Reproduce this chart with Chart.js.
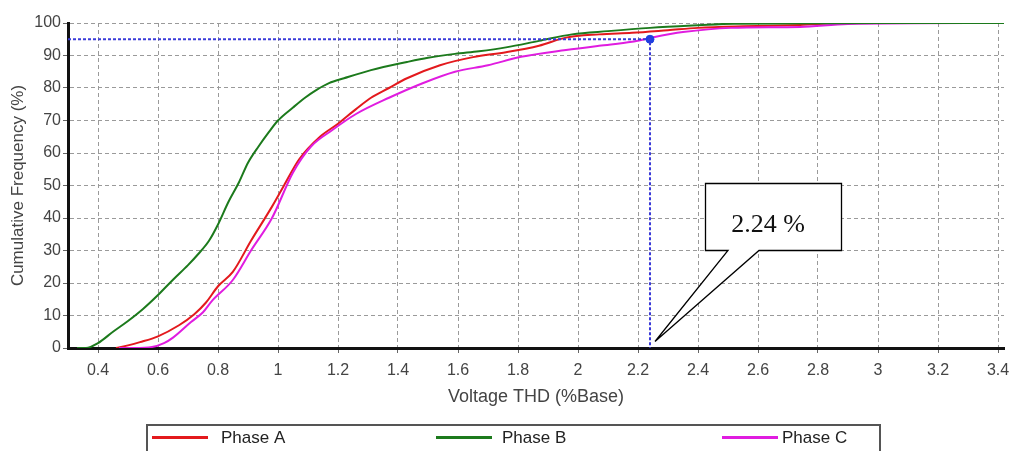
<!DOCTYPE html>
<html><head><meta charset="utf-8">
<script src="https://cdn.jsdelivr.net/npm/chart.js@4/dist/chart.umd.min.js"></script>
<style>html,body{margin:0;padding:0;background:#fff;}#wrap{width:1009px;height:451px;position:relative;}</style>
</head><body><div id="wrap"><canvas id="c" width="1009" height="451"></canvas></div>
<script>
// ---- data ----
const seriesNames = ['Phase A', 'Phase B', 'Phase C'];
const phaseA_x = [0.46,0.50,0.54,0.60,0.67,0.72,0.76,0.80,0.85,0.91,0.98,1.02,1.07,1.14,1.20,1.26,1.31,1.37,1.43,1.54,1.65,1.76,1.87,1.96,2.07,2.18,2.30,2.40,2.55,2.74,2.90,3.42];
const phaseA_y = [0,0.8,1.8,3.6,7,10.3,14,19,23.5,33,43.5,50,58,65,69,73.5,77,80,83,87,89.5,91,93,95.5,96.5,97,97.8,98.5,99,99.4,100,100];
const phaseB_x = [0.33,0.36,0.40,0.45,0.50,0.55,0.60,0.65,0.70,0.735,0.77,0.80,0.835,0.87,0.90,0.935,0.97,1.00,1.05,1.09,1.13,1.17,1.22,1.31,1.43,1.50,1.59,1.67,1.76,1.87,1.98,2.10,2.24,2.40,2.52,3.00,3.42];
const phaseB_y = [0,0,1.5,5,8.3,12,16.3,21,25.5,29,33,38,45,51,57,62,66.5,70,74,77,79.5,81.5,83,85.5,88,89.3,90.5,91.3,92.5,94.5,96.5,97.5,98.5,99.3,99.8,100,100];
const phaseC_x = [0.47,0.52,0.58,0.62,0.65,0.71,0.75,0.78,0.85,0.91,0.98,1.05,1.11,1.18,1.26,1.37,1.48,1.59,1.70,1.81,1.96,2.07,2.18,2.24,2.35,2.51,2.74,2.90,3.42];
const phaseC_y = [0,0,0.3,1.5,3.2,8,11,14.5,21,30,40,54,62,67,72,77,81.4,85,87,89.6,91.7,93,94.2,95.4,97.2,98.5,98.8,99.7,100];
const xTickValues = [0.4,0.6,0.8,1,1.2,1.4,1.6,1.8,2,2.2,2.4,2.6,2.8,3,3.2,3.4];
const yTickValues = [0,10,20,30,40,50,60,70,80,90,100];
const markerValue = 2.24;
const markerPercent = 95;
const calloutText = '2.24 %';
const xTitle = 'Voltage THD (%Base)';
const yTitle = 'Cumulative Frequency (%)';
const xMin = 0.3, xMax = 3.42;

const colors = ['#e3191d', '#1c7a1c', '#e01ce0'];
const pts = (xs, ys) => xs.map((x, i) => ({x, y: ys[i]}));

const seriesData = [pts(phaseA_x, phaseA_y), pts(phaseB_x, phaseB_y), pts(phaseC_x, phaseC_y)];

const FONT = '"Liberation Sans", Arial, sans-serif';

const legendPlugin = {
  id: 'boxLegend',
  afterDraw(chart) {
    const ctx = chart.ctx;
    ctx.save();
    ctx.strokeStyle = '#555';
    ctx.lineWidth = 2;
    ctx.strokeRect(147, 425, 733, 40);
    const items = [{x: 152, tx: 221}, {x: 436, tx: 502}, {x: 722, tx: 782}];
    items.forEach((it, i) => {
      ctx.strokeStyle = colors[i];
      ctx.lineWidth = 3;
      ctx.beginPath(); ctx.moveTo(it.x, 437.5); ctx.lineTo(it.x + 56, 437.5); ctx.stroke();
      ctx.fillStyle = '#222';
      ctx.font = '17px ' + FONT;
      ctx.textBaseline = 'middle';
      ctx.textAlign = 'left';
      ctx.fillText(seriesNames[i], it.tx, 438);
    });
    ctx.restore();
  }
};

const calloutPlugin = {
  id: 'callout',
  afterDatasetsDraw(chart) {
    const ctx = chart.ctx;
    const xs = chart.scales.x, ys = chart.scales.y;
    const tipX = xs.getPixelForValue(markerValue) + 5;
    const tipY = ys.getPixelForValue(2);
    ctx.save();
    ctx.beginPath();
    ctx.moveTo(705.5, 183.5); ctx.lineTo(841.5, 183.5); ctx.lineTo(841.5, 250.5);
    ctx.lineTo(759, 250.5); ctx.lineTo(tipX, tipY); ctx.lineTo(728, 250.5);
    ctx.lineTo(705.5, 250.5); ctx.closePath();
    ctx.fillStyle = '#fff'; ctx.fill();
    ctx.strokeStyle = '#000'; ctx.lineWidth = 1.3; ctx.stroke();
    ctx.fillStyle = '#111';
    ctx.font = '26px "Liberation Serif", "Times New Roman", serif';
    ctx.textAlign = 'center'; ctx.textBaseline = 'middle';
    ctx.fillText(calloutText, 768, 225);
    ctx.restore();
  }
};

new Chart(document.getElementById('c'), {
  type: 'line',
  data: {
    datasets: [
      {label: 'marker', data: [{x: xMin, y: markerPercent}, {x: markerValue, y: markerPercent}, {x: markerValue, y: 0}],
       borderColor: '#3a3ad8', borderWidth: 2, borderDash: [3, 2], pointRadius: 0, tension: 0},
      {label: 'markerDot', data: [{x: markerValue, y: markerPercent}], showLine: false,
       pointRadius: 4, pointBackgroundColor: '#1d3fe0', pointBorderColor: '#1d3fe0'},
      {label: seriesNames[1], data: seriesData[1], borderColor: colors[1], borderWidth: 2, pointRadius: 0, cubicInterpolationMode: 'monotone'},
      {label: seriesNames[2], data: seriesData[2], borderColor: colors[2], borderWidth: 2, pointRadius: 0, cubicInterpolationMode: 'monotone'},
      {label: seriesNames[0], data: seriesData[0], borderColor: colors[0], borderWidth: 2, pointRadius: 0, cubicInterpolationMode: 'monotone'}
    ]
  },
  options: {
    responsive: false, animation: false, devicePixelRatio: 1,
    layout: {padding: {top: 23, right: 4, bottom: 41, left: 0}},
    plugins: {legend: {display: false}, tooltip: {enabled: false}},
    scales: {
      x: {
        type: 'linear', min: xMin, max: xMax,
        afterBuildTicks: s => { s.ticks = xTickValues.map(v => ({value: v})); },
        afterFit: s => { s.height = 62; s.paddingLeft = 0; s.paddingRight = 0; },
        ticks: {callback: v => String(Number(v.toFixed(1))), color: '#444', font: {family: FONT, size: 16}, padding: 8, maxRotation: 0, autoSkip: false},
        grid: {color: '#9a9a9a', lineWidth: 1, tickLength: 5, tickColor: '#666'},
        border: {color: '#111', width: 3, dash: [4, 3]},
        title: {display: true, text: xTitle, color: '#444', font: {family: FONT, size: 18}, padding: {top: 0, bottom: 2}}
      },
      y: {
        min: 0, max: 100,
        afterBuildTicks: s => { s.ticks = yTickValues.map(v => ({value: v})); },
        afterFit: s => { s.width = 68; s.paddingTop = 0; s.paddingBottom = 0; },
        ticks: {color: '#444', font: {family: FONT, size: 16}, padding: 2},
        grid: {color: '#9a9a9a', lineWidth: 1, tickLength: 5, tickColor: '#666'},
        border: {color: '#111', width: 3, dash: [4, 3]},
        title: {display: true, text: yTitle, color: '#444', font: {family: FONT, size: 17}, padding: {top: 8, bottom: 0}}
      }
    }
  },
  plugins: [calloutPlugin, legendPlugin]
});
</script></body></html>
